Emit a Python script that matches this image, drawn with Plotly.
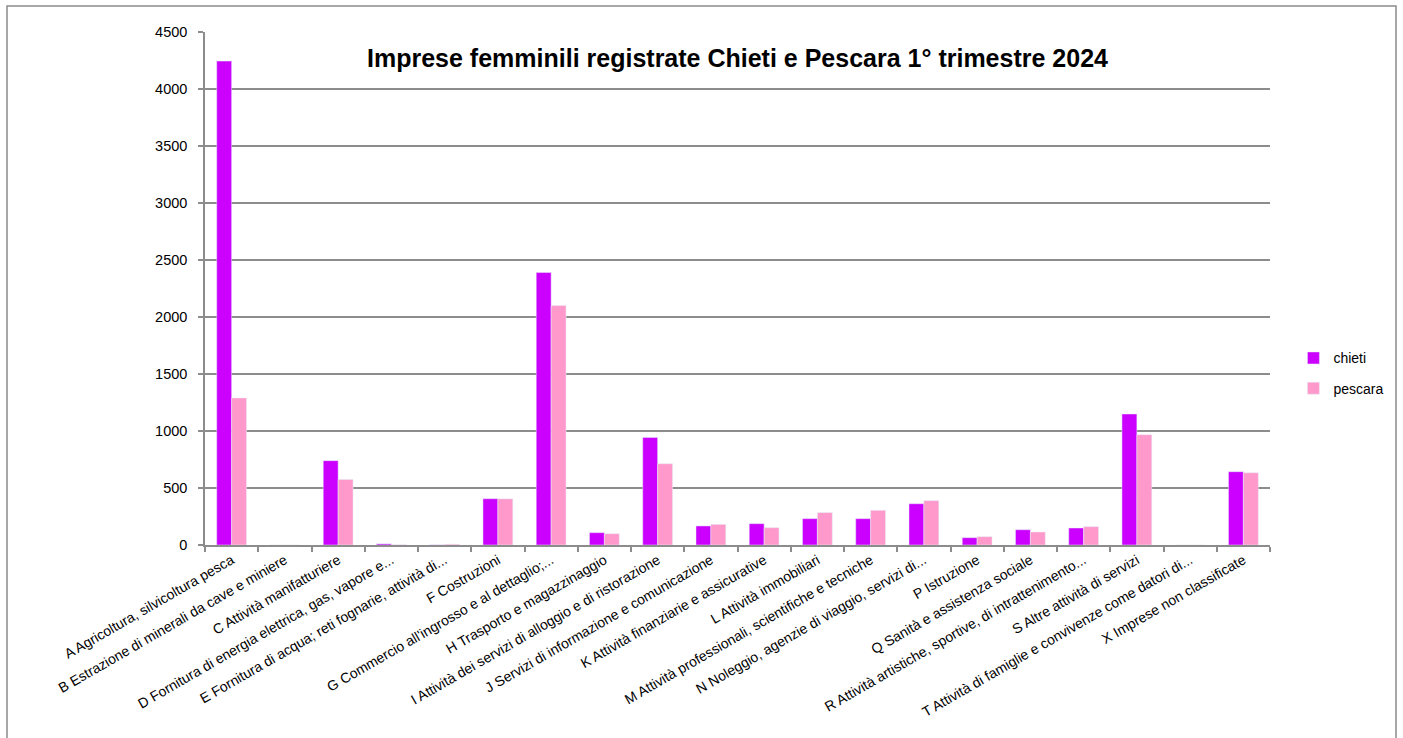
import plotly.graph_objects as go

categories = [
    "A Agricoltura, silvicoltura pesca",
    "B Estrazione di minerali da cave e miniere",
    "C Attività manifatturiere",
    "D Fornitura di energia elettrica, gas, vapore e...",
    "E Fornitura di acqua; reti fognarie, attività di...",
    "F Costruzioni",
    "G Commercio all'ingrosso e al dettaglio;...",
    "H Trasporto e magazzinaggio",
    "I Attività dei servizi di alloggio e di ristorazione",
    "J Servizi di informazione e comunicazione",
    "K Attività finanziarie e assicurative",
    "L Attività immobiliari",
    "M Attività professionali, scientifiche e tecniche",
    "N Noleggio, agenzie di viaggio, servizi di...",
    "P Istruzione",
    "Q Sanità e assistenza sociale",
    "R Attività artistiche, sportive, di intrattenimento...",
    "S Altre attività di servizi",
    "T Attività di famiglie e convivenze come datori di...",
    "X Imprese non classificate",
]
chieti = [4245, 0, 740, 10, 1, 406, 2390, 108, 944, 167, 187, 231, 231, 362, 64, 134, 149, 1149, 0, 643]
pescara = [1290, 0, 575, 2, 7, 405, 2100, 99, 713, 181, 152, 284, 304, 389, 73, 114, 161, 967, 0, 634]
y_ticks = [0, 500, 1000, 1500, 2000, 2500, 3000, 3500, 4000, 4500]

fig = go.Figure()
fig.add_trace(go.Bar(name="chieti", x=categories, y=chieti, marker_color="#CC00FF",
                     legendgroup="c"))
fig.add_trace(go.Bar(name="pescara", x=categories, y=pescara, marker_color="#FF99CC",
                     legendgroup="p"))

axis_gray = "#8c8c8c"
fig.update_layout(
    width=1403, height=738,
    margin=dict(l=205, r=133, t=32, b=193, autoexpand=False),
    paper_bgcolor="white", plot_bgcolor="white",
    barmode="group", bargap=0.44, bargroupgap=0,
    font=dict(family="Liberation Sans, Arial, sans-serif", color="#000000"),
    title=dict(text="<b>Imprese femminili registrate Chieti e Pescara 1° trimestre 2024</b>",
               x=0.5, xref="paper", xanchor="center", y=1 - 58 / 738, yanchor="middle",
               font=dict(size=25, family="Liberation Sans, Arial, sans-serif", color="#000")),
    showlegend=True,
    legend=dict(x=1.022, y=0.395, xanchor="left", yanchor="top", traceorder="grouped",
                tracegroupgap=9, font=dict(size=14), bgcolor="rgba(0,0,0,0)",
                itemwidth=30),
    xaxis=dict(type="category", tickangle=-30, tickfont=dict(size=14),
               showline=True, linecolor=axis_gray, linewidth=1.5,
               ticks="outside", tickson="boundaries", ticklen=5, tickcolor=axis_gray,
               tickwidth=1.5, showgrid=False, automargin=False),
    yaxis=dict(range=[0, 4500], tickvals=y_ticks, tickfont=dict(size=14.5),
               showline=True, linecolor=axis_gray, linewidth=1.5,
               ticks="outside", ticklen=5, tickcolor=axis_gray, tickwidth=1.5,
               showgrid=True, gridcolor=axis_gray, gridwidth=1.5, zeroline=False,
               ticklabelstandoff=8, automargin=False),
    shapes=[dict(type="rect", xref="paper", yref="paper",
                 x0=(7 - 205) / 1065, x1=(1396 - 205) / 1065,
                 y0=(545 - 760) / 513, y1=(545 - 6) / 513,
                 line=dict(color=axis_gray, width=1.5), fillcolor="rgba(0,0,0,0)",
                 layer="below")],
)

fig.write_html("out.html", config={"displayModeBar": False},
               post_script="document.body.style.margin='0';")
